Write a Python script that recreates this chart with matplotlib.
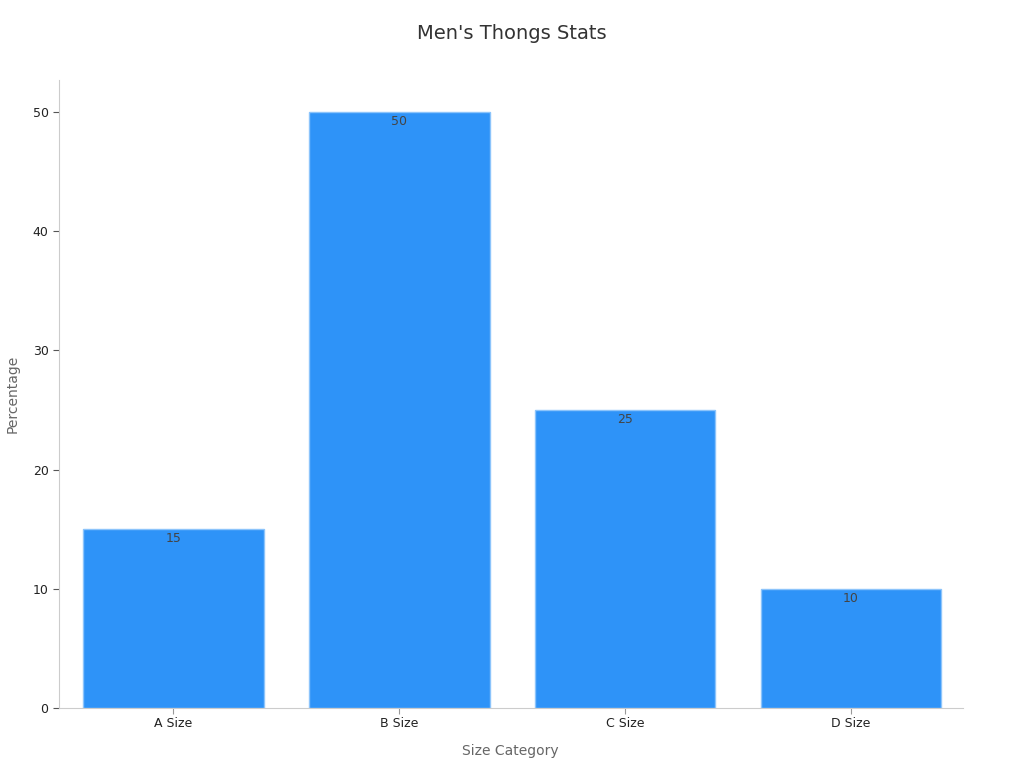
import matplotlib
matplotlib.use("Agg")
import matplotlib.pyplot as plt

categories = ["A Size", "B Size", "C Size", "D Size"]
percentages = [15, 50, 25, 10]

fig = plt.figure(figsize=(10.24, 7.68), dpi=100)
ax = fig.add_axes([0.0576, 0.078, 0.8824, 0.818])

bars = ax.bar(range(len(categories)), percentages, width=0.8,
              color="#2e93f8", edgecolor="#8cc4fb", linewidth=1)

for rect, val in zip(bars, percentages):
    ax.annotate(str(val), (rect.get_x() + rect.get_width() / 2, rect.get_height()),
                xytext=(0, -2), textcoords="offset points",
                ha="center", va="top", fontsize=9, color="#444444")

ax.set_xticks(range(len(categories)))
ax.set_xticklabels(categories)
ax.set_xlim(-0.506, 3.494)
ax.set_ylim(0, 52.7)
ax.set_yticks([0, 10, 20, 30, 40, 50])

ax.tick_params(axis="both", labelsize=9, colors="#222222")
ax.tick_params(axis="x", color="#999999", length=4, pad=2.5)
ax.tick_params(axis="y", color="#555555", length=4)

for side in ["top", "right"]:
    ax.spines[side].set_visible(False)
for side in ["left", "bottom"]:
    ax.spines[side].set_color("#cccccc")

ax.set_xlabel("Size Category", fontsize=10, color="#666666", labelpad=10)
ax.set_ylabel("Percentage", fontsize=10, color="#666666", labelpad=9)
fig.text(0.5, 0.957, "Men's Thongs Stats", ha="center", va="center",
         fontsize=14, color="#333333")

plt.savefig("out.png", dpi=100)
